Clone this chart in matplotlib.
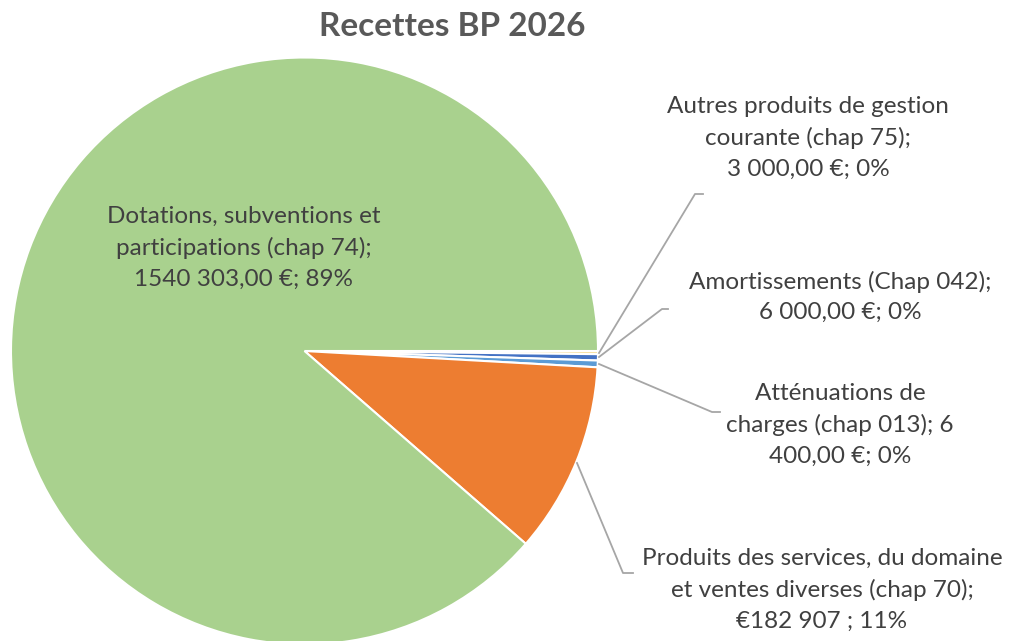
import matplotlib.pyplot as plt

W, H = 1014, 641

categories = [
    "Autres produits de gestion\ncourante (chap 75);\n3 000,00 €; 0%",
    "Amortissements (Chap 042);\n6 000,00 €; 0%",
    "Atténuations de\ncharges (chap 013); 6\n400,00 €; 0%",
    "Produits des services, du domaine\net ventes diverses (chap 70);\n€182 907 ; 11%",
    "Dotations, subventions et\nparticipations (chap 74);\n1540 303,00 €; 89%",
]
values = [3000, 6000, 6400, 182907, 1540303]
colors = ["#F7DFA0", "#4472C4", "#5B9BD5", "#ED7D31", "#A9D18E"]

# label anchor (text centre) and leader line (start, elbow, end) in pixel coords
label_pos = [(808, 138), (840, 297), (840, 425), (822, 590), (244, 248)]
leaders = [
    [(599, 353), (695, 194), (703, 194)],
    [(599, 357), (662, 309), (668, 309)],
    [(599, 364), (712, 412), (720, 412)],
    [(577, 463), (623, 573), (633, 573)],
    None,
]

plt.rcParams["font.family"] = ["Lato", "DejaVu Sans"]

fig = plt.figure(figsize=(W / 100, H / 100), dpi=100)
ax = fig.add_axes([0, 0, 1, 1])

ax.pie(
    values,
    colors=colors,
    startangle=0,
    counterclock=False,
    center=(304.5, H - 351),
    radius=293.5,
    wedgeprops={"edgecolor": "white", "linewidth": 1.5},
)

for text, (x, y), leader in zip(categories, label_pos, leaders):
    ax.text(x, H - y, text, ha="center", va="center", fontsize=17.5,
            color="#404040", linespacing=1.55)
    if leader:
        xs = [p[0] for p in leader]
        ys = [H - p[1] for p in leader]
        ax.plot(xs, ys, color="#A6A6A6", linewidth=1.3)

ax.text(452, H - 27, "Recettes BP 2026", ha="center", va="center",
        fontsize=24, fontweight="bold", color="#595959")

ax.set_xlim(0, W)
ax.set_ylim(0, H)
ax.set_aspect("equal")
ax.axis("off")

fig.savefig("out.png", dpi=100)
